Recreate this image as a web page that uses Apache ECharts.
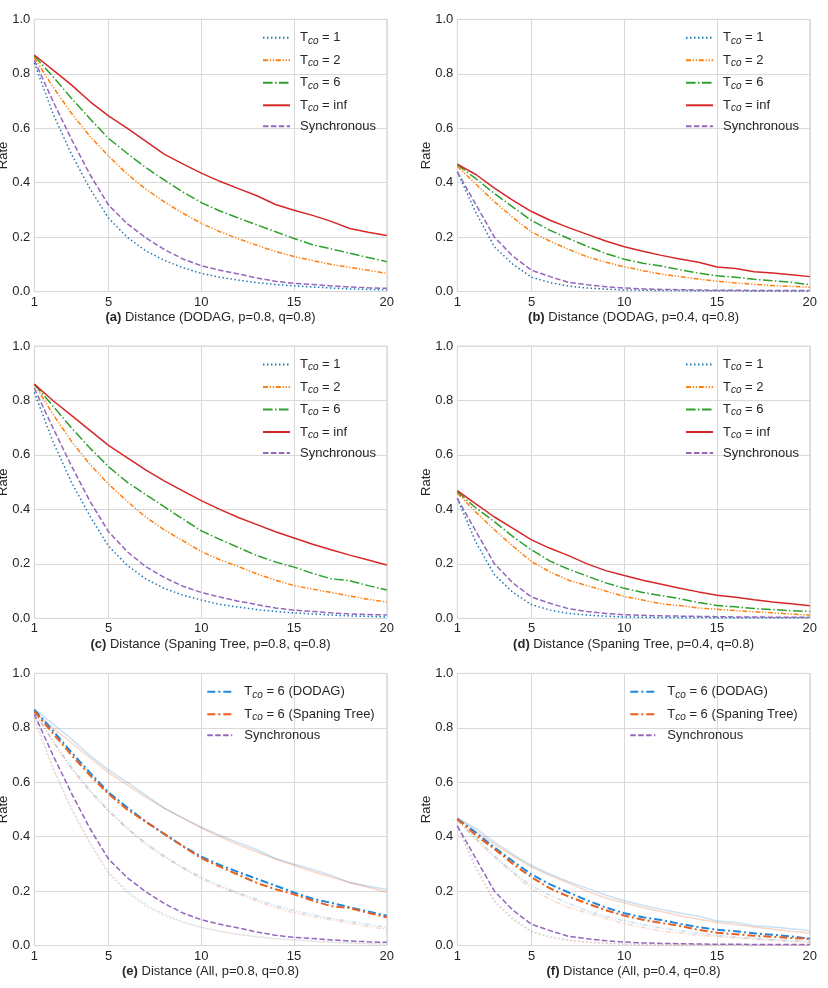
<!DOCTYPE html>
<html>
<head>
<meta charset="utf-8">
<script src="https://cdn.jsdelivr.net/npm/echarts@6/dist/echarts.min.js"></script>
<style>html,body{margin:0;padding:0;background:#fff}#c{width:828px;height:988px}</style>
</head>
<body>
<div id="c"></div>
<script>
const distances = ['1','2','3','4','5','6','7','8','9','10','11','12','13','14','15','16','17','18','19','20'];
const xTickLabels = ['1','5','10','15','20'];
const yTicks = [0, 0.2, 0.4, 0.6, 0.8, 1.0];

// (a) DODAG, p=0.8, q=0.8
const aT1  = [0.840,0.655,0.505,0.378,0.270,0.200,0.150,0.115,0.088,0.067,0.053,0.042,0.033,0.026,0.021,0.017,0.013,0.010,0.008,0.006];
const aT2  = [0.860,0.752,0.655,0.570,0.498,0.432,0.377,0.330,0.288,0.251,0.220,0.194,0.170,0.147,0.129,0.114,0.100,0.089,0.078,0.067];
const aT6  = [0.866,0.790,0.710,0.635,0.563,0.508,0.456,0.410,0.366,0.327,0.296,0.270,0.245,0.220,0.195,0.172,0.157,0.141,0.125,0.110];
const aInf = [0.869,0.814,0.759,0.698,0.645,0.600,0.553,0.505,0.469,0.435,0.405,0.378,0.352,0.320,0.299,0.280,0.258,0.232,0.218,0.206];
const aSync= [0.850,0.700,0.560,0.430,0.318,0.250,0.198,0.155,0.120,0.095,0.078,0.065,0.050,0.038,0.030,0.026,0.021,0.017,0.014,0.012];
// (b) DODAG, p=0.4, q=0.8
const bT1  = [0.440,0.290,0.165,0.100,0.053,0.033,0.020,0.013,0.009,0.006,0.005,0.004,0.004,0.003,0.003,0.003,0.002,0.002,0.002,0.002];
const bT2  = [0.460,0.395,0.330,0.272,0.219,0.185,0.155,0.128,0.108,0.091,0.077,0.064,0.055,0.046,0.038,0.032,0.027,0.022,0.019,0.016];
const bT6  = [0.466,0.415,0.360,0.310,0.261,0.225,0.195,0.166,0.140,0.119,0.104,0.094,0.080,0.068,0.058,0.053,0.045,0.040,0.034,0.025];
const bInf = [0.468,0.430,0.380,0.335,0.294,0.262,0.235,0.210,0.186,0.165,0.148,0.133,0.120,0.108,0.090,0.085,0.073,0.068,0.062,0.055];
const bSync= [0.440,0.320,0.200,0.130,0.078,0.055,0.034,0.025,0.018,0.013,0.010,0.008,0.007,0.006,0.005,0.005,0.004,0.004,0.004,0.004];
// (c) Spaning Tree, p=0.8, q=0.8
const cT1  = [0.830,0.650,0.500,0.375,0.265,0.195,0.145,0.110,0.085,0.067,0.051,0.041,0.032,0.025,0.020,0.016,0.012,0.009,0.007,0.005];
const cT2  = [0.860,0.750,0.650,0.565,0.493,0.430,0.372,0.325,0.285,0.245,0.215,0.190,0.163,0.140,0.120,0.107,0.095,0.082,0.070,0.060];
const cT6  = [0.860,0.780,0.700,0.625,0.557,0.500,0.455,0.410,0.365,0.321,0.290,0.260,0.230,0.207,0.188,0.165,0.145,0.138,0.120,0.104];
const cInf = [0.860,0.800,0.745,0.690,0.635,0.590,0.545,0.505,0.468,0.432,0.400,0.370,0.344,0.318,0.295,0.272,0.252,0.232,0.214,0.196];
const cSync= [0.845,0.700,0.560,0.430,0.318,0.245,0.190,0.150,0.118,0.095,0.078,0.063,0.050,0.038,0.030,0.025,0.020,0.016,0.014,0.012];
// (d) Spaning Tree, p=0.4, q=0.8
const dT1  = [0.440,0.280,0.160,0.095,0.050,0.030,0.018,0.012,0.008,0.005,0.004,0.003,0.003,0.003,0.002,0.002,0.002,0.002,0.002,0.002];
const dT2  = [0.460,0.390,0.325,0.265,0.208,0.170,0.140,0.120,0.100,0.080,0.067,0.053,0.047,0.038,0.033,0.028,0.024,0.020,0.016,0.012];
const dT6  = [0.465,0.405,0.355,0.300,0.251,0.210,0.180,0.155,0.130,0.110,0.095,0.083,0.072,0.058,0.047,0.042,0.036,0.032,0.028,0.025];
const dInf = [0.469,0.420,0.372,0.330,0.288,0.257,0.230,0.200,0.175,0.157,0.140,0.125,0.110,0.097,0.085,0.077,0.068,0.060,0.053,0.046];
const dSync= [0.440,0.320,0.200,0.130,0.078,0.055,0.035,0.025,0.018,0.013,0.011,0.009,0.008,0.007,0.006,0.005,0.005,0.004,0.004,0.004];

const C = {blue:'#1f77b4', orange:'#ff7f0e', green:'#2ca02c', red:'#d62728', purple:'#9467bd', dBlue:'#1f88e0', dOrange:'#e8601c'};
const DASH = {
  T1: [1.5, 2.5],
  T2: [5, 1.8, 1.2, 1.8, 1.2, 1.8],
  T6: [9.6, 2.4, 1.5, 2.4],
  Inf: 'solid',
  Sync: [5.5, 2.4]
};
const LABELS = {
  T1: '{t|T}{s|co}{t| = 1}',
  T2: '{t|T}{s|co}{t| = 2}',
  T6: '{t|T}{s|co}{t| = 6}',
  Inf: '{t|T}{s|co}{t| = inf}',
  Sync: '{t|Synchronous}',
  T6D: '{t|T}{s|co}{t| = 6 (DODAG)}',
  T6S: '{t|T}{s|co}{t| = 6 (Spaning Tree)}'
};

const GW = 352.5, GH = 272.3;
const panels = [
  {id:'a', left:34.3, top:19.3, tag:'(a)', title:' Distance (DODAG, p=0.8, q=0.8)'},
  {id:'b', left:457.3, top:19.3, tag:'(b)', title:' Distance (DODAG, p=0.4, q=0.8)'},
  {id:'c', left:34.3, top:346, tag:'(c)', title:' Distance (Spaning Tree, p=0.8, q=0.8)'},
  {id:'d', left:457.3, top:346, tag:'(d)', title:' Distance (Spaning Tree, p=0.4, q=0.8)'},
  {id:'e', left:34.3, top:673.3, tag:'(e)', title:' Distance (All, p=0.8, q=0.8)'},
  {id:'f', left:457.3, top:673.3, tag:'(f)', title:' Distance (All, p=0.4, q=0.8)'}
];
const simple = {
  a: {T1:aT1, T2:aT2, T6:aT6, Inf:aInf, Sync:aSync},
  b: {T1:bT1, T2:bT2, T6:bT6, Inf:bInf, Sync:bSync},
  c: {T1:cT1, T2:cT2, T6:cT6, Inf:cInf, Sync:cSync},
  d: {T1:dT1, T2:dT2, T6:dT6, Inf:dInf, Sync:dSync}
};
const simpleColors = {T1:C.blue, T2:C.orange, T6:C.green, Inf:C.red, Sync:C.purple};

const FONT = 'Liberation Sans, Arial, sans-serif';
const TXT = '#262626';
const GRIDC = '#d9d9d9';

const grids = [], xAxes = [], yAxes = [], series = [], legends = [];

panels.forEach((p, i) => {
  grids.push({left:p.left, top:p.top, width:GW, height:GH, show:true, backgroundColor:'#fff', borderColor:GRIDC, borderWidth:1, outerBoundsMode:'none', containLabel:false});
  xAxes.push({
    type:'category', gridIndex:i, data:distances, boundaryGap:false,
    axisLine:{show:false}, axisTick:{show:false},
    axisLabel:{interval:(idx, v) => xTickLabels.indexOf(v) >= 0, color:TXT, fontSize:13, fontFamily:FONT, margin:4},
    splitLine:{show:true, interval:(idx, v) => xTickLabels.indexOf(v) >= 0, lineStyle:{color:GRIDC, width:1}},
    name:'{b|' + p.tag + '}{n|' + p.title + '}', nameLocation:'middle', nameGap:19.5,
    nameTextStyle:{rich:{b:{fontWeight:'bold', fontSize:13, color:TXT, fontFamily:FONT}, n:{fontSize:13, color:TXT, fontFamily:FONT}}}
  });
  yAxes.push({
    type:'value', gridIndex:i, min:yTicks[0], max:yTicks[yTicks.length-1], interval:0.2,
    axisLine:{show:false}, axisTick:{show:false},
    axisLabel:{formatter:v => v.toFixed(1), color:TXT, fontSize:13, fontFamily:FONT, margin:4},
    splitLine:{show:true, lineStyle:{color:GRIDC, width:1}},
    name:'Rate', nameLocation:'middle', nameGap:24, nameMoveOverlap:false,
    nameTextStyle:{color:TXT, fontSize:13, fontFamily:FONT}
  });
  const legendNames = [];
  const addLine = (key, data, color, dash, width, opacity, inLegend) => {
    const name = key + '#' + p.id + (inLegend ? '' : '#f' + series.length);
    series.push({
      type:'line', name, xAxisIndex:i, yAxisIndex:i, data, symbol:'none', showSymbol:false,
      lineStyle:{color, width, type:dash, opacity, cap:'butt'}, itemStyle:{color},
      emphasis:{disabled:true}, silent:true, animation:false
    });
    if (inLegend) legendNames.push(name);
  };
  if (simple[p.id]) {
    ['T1','T2','T6','Inf','Sync'].forEach(k => addLine(k, simple[p.id][k], simpleColors[k], DASH[k], 1.5, 1, true));
  } else {
    const d1 = p.id === 'e' ? simple.a : simple.b;
    const d2 = p.id === 'e' ? simple.c : simple.d;
    ['T1','T2','Inf'].forEach(k => addLine(k, d1[k], C.dBlue, DASH[k], 1.5, 0.25, false));
    ['T1','T2','Inf'].forEach(k => addLine(k, d2[k], C.dOrange, DASH[k], 1.5, 0.25, false));
    addLine('T6D', d1.T6, C.dBlue, [8, 3, 2, 3], 2, 1, true);
    addLine('T6S', d2.T6, C.dOrange, [8, 3, 2, 3], 2, 1, true);
    addLine('Sync', d1.Sync, C.purple, [5.5, 2.4], 1.5, 1, true);
  }
  const big = !simple[p.id];
  legends.push({
    data:legendNames, orient:'vertical', left:p.left + (big ? 172 : 227.7), top:p.top + 10.5,
    padding:0, itemWidth: big ? 25 : 27, itemHeight:14, itemGap:6.5, selectedMode:false,
    itemStyle:{opacity:0, borderWidth:0},
    formatter: name => LABELS[name.split('#')[0]],
    textStyle:{padding:[0,0,0, big ? 7 : 5], rich:{
      t:{fontSize:13, color:TXT, fontFamily:FONT, lineHeight:14},
      s:{fontSize:10, fontStyle:'italic', color:TXT, fontFamily:FONT, lineHeight:14, padding:[6,0,0,0]}
    }}
  });
});

const chart = echarts.init(document.getElementById('c'), null, {renderer:'canvas'});
chart.setOption({
  animation:false, backgroundColor:'#fff',
  grid:grids, xAxis:xAxes, yAxis:yAxes, series, legend:legends
});
</script>
</body>
</html>
